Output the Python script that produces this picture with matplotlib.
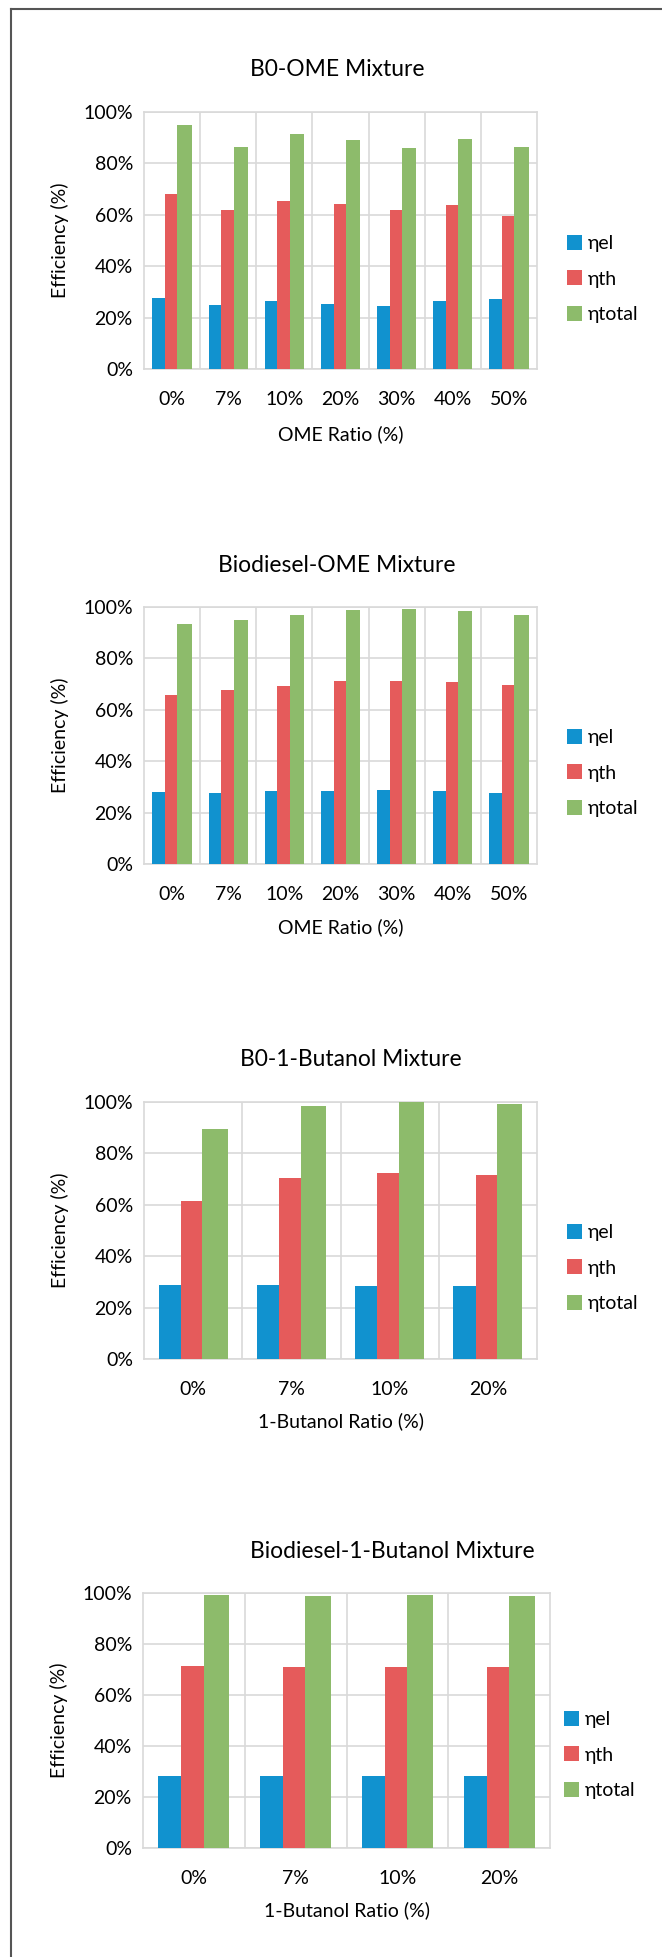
import numpy as np
import matplotlib
matplotlib.use('Agg')
import matplotlib.pyplot as plt
from matplotlib.patches import Patch
from matplotlib.lines import Line2D

plt.rcParams['font.family'] = ['Lato', 'DejaVu Sans']

# data
series_names = ['ηel', 'ηth', 'ηtotal']

ome_ratios = ['0%', '7%', '10%', '20%', '30%', '40%', '50%']
butanol_ratios = ['0%', '7%', '10%', '20%']

b0_ome_el = [27.6, 24.9, 26.6, 25.4, 24.6, 26.3, 27.2]
b0_ome_th = [68.0, 61.9, 65.2, 64.3, 61.8, 63.9, 59.7]
b0_ome_total = [95.1, 86.3, 91.3, 89.1, 85.9, 89.5, 86.3]

bio_ome_el = [28.1, 27.8, 28.4, 28.4, 28.7, 28.4, 27.7]
bio_ome_th = [65.8, 67.7, 69.2, 71.1, 71.2, 70.7, 69.6]
bio_ome_total = [93.2, 95.0, 96.9, 98.9, 99.4, 98.5, 96.8]

b0_but_el = [28.6, 28.8, 28.3, 28.3]
b0_but_th = [61.4, 70.3, 72.5, 71.5]
b0_but_total = [89.4, 98.5, 100.0, 99.2]

bio_but_el = [28.4, 28.4, 28.4, 28.4]
bio_but_th = [71.5, 71.1, 71.1, 71.0]
bio_but_total = [99.3, 98.9, 99.2, 98.9]

colors = ['#1192CF', '#E55B5B', '#8DBB6B']
grid_col = '#D9D9D9'

W, H = 662, 1957
fig = plt.figure(figsize=(W / 100, H / 100), dpi=100)


def rect(l, t, r, b):
    return [l / W, 1 - b / H, (r - l) / W, (b - t) / H]


panels = [
    dict(title='B0-OME Mixture', tx=337, ty=70, box=(144, 112, 537, 369),
         cats=ome_ratios, vals=(b0_ome_el, b0_ome_th, b0_ome_total),
         xlabel='OME Ratio (%)', xly=434, leg=(567, 279)),
    dict(title='Biodiesel-OME Mixture', tx=337, ty=565, box=(144, 607, 537, 864),
         cats=ome_ratios, vals=(bio_ome_el, bio_ome_th, bio_ome_total),
         xlabel='OME Ratio (%)', xly=927, leg=(567, 773)),
    dict(title='B0-1-Butanol Mixture', tx=351, ty=1060, box=(144, 1102, 537, 1359),
         cats=butanol_ratios, vals=(b0_but_el, b0_but_th, b0_but_total),
         xlabel='1-Butanol Ratio (%)', xly=1421, leg=(567, 1268)),
    dict(title='Biodiesel-1-Butanol Mixture', tx=392, ty=1552, box=(143, 1593, 550, 1848),
         cats=butanol_ratios, vals=(bio_but_el, bio_but_th, bio_but_total),
         xlabel='1-Butanol Ratio (%)', xly=1910, leg=(564, 1755)),
]

# bar widths per series (green a touch wider, as in the original)
widths = [0.226, 0.219, 0.255]

for p in panels:
    l, t, r, b = p['box']
    ax = fig.add_axes(rect(l, t, r, b))
    n = len(p['cats'])
    x = np.arange(n)
    start = x - sum(widths) / 2
    off = 0
    for vals, w, c, name in zip(p['vals'], widths, colors, series_names):
        ax.bar(start + off + w / 2, vals, width=w, color=c, label=name, zorder=3)
        off += w
    ax.set_xlim(-0.5, n - 0.5)
    ax.set_ylim(0, 100)
    ax.set_yticks(range(0, 101, 20))
    ax.set_yticklabels([f'{v}%' for v in range(0, 101, 20)], fontsize=14)
    ax.set_xticks(x)
    ax.set_xticklabels(p['cats'], fontsize=14)
    ax.tick_params(axis='y', length=0, pad=8)
    ax.tick_params(axis='x', length=0, pad=16)
    # vertical separators between categories
    for xv in np.arange(0.5, n - 0.5, 1):
        ax.axvline(xv, color=grid_col, lw=1.2, zorder=1)
    ax.yaxis.grid(True, color=grid_col, lw=1.2, zorder=1)
    for s in ax.spines.values():
        s.set_color(grid_col)
        s.set_linewidth(1.2)
    ax.set_ylabel('Efficiency (%)', fontsize=14, labelpad=10)
    fig.text(p['tx'] / W, 1 - p['ty'] / H, p['title'], fontsize=16.5,
             ha='center', va='center')
    fig.text(((l + r) / 2) / W, 1 - p['xly'] / H, p['xlabel'], fontsize=14,
             ha='center', va='center')
    handles = [Patch(facecolor=c, edgecolor='none') for c in colors]
    fig.legend(handles, series_names, loc='center left',
               bbox_to_anchor=(p['leg'][0] / W, 1 - p['leg'][1] / H),
               frameon=False, fontsize=14, handlelength=0.78, handleheight=0.78,
               handletextpad=0.3, labelspacing=0.95, borderpad=0, borderaxespad=0)

# outer frame (left and top edges visible in the original)
fig.add_artist(Line2D([11 / W, 11 / W], [0, 1 - 9 / H], color='#555555', lw=1.5))
fig.add_artist(Line2D([11 / W, 1], [1 - 9 / H, 1 - 9 / H], color='#555555', lw=1.5))

fig.savefig('out.png', dpi=100)
